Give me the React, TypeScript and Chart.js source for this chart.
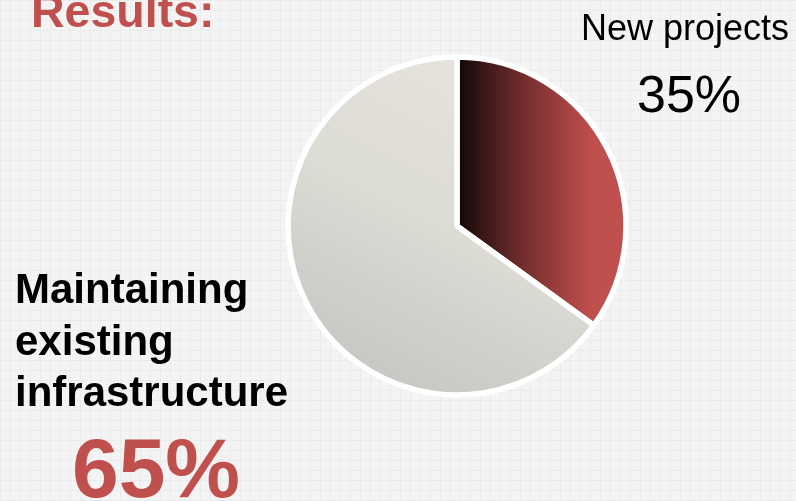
import React, { useEffect, useRef } from "react";
import { Chart, registerables } from "chart.js";

Chart.register(...registerables);

const titleText = "Results:";
const categories = ["New projects", "Maintaining existing infrastructure"];
const shares = [35, 65];
const labelLines = [["New projects"], ["Maintaining", "existing", "infrastructure"]];

const W = 796;
const H = 501;
const PIE_RADIUS = 169;
const FONT = "'Liberation Sans', Arial, Helvetica, sans-serif";
const RED = "#c0504d";

const textPlugin = {
  id: "textLabels",
  afterDraw(chart: any) {
    const ctx = chart.ctx as CanvasRenderingContext2D;
    ctx.save();
    ctx.textBaseline = "alphabetic";

    // Title
    ctx.fillStyle = RED;
    ctx.font = `bold 46.5px ${FONT}`;
    ctx.textAlign = "left";
    ctx.fillText(titleText, 31, 27);

    // New projects label
    ctx.fillStyle = "#000000";
    ctx.textAlign = "center";
    ctx.font = `36px ${FONT}`;
    labelLines[0].forEach((line, i) => ctx.fillText(line, 685, 40 + i * 40));
    ctx.font = `52px ${FONT}`;
    ctx.fillText(`${shares[0]}%`, 689, 112);

    // Maintaining label
    ctx.textAlign = "left";
    ctx.font = `bold 42px ${FONT}`;
    labelLines[1].forEach((line, i) => ctx.fillText(line, 15, 303 + i * 51.5));
    ctx.fillStyle = RED;
    ctx.font = `bold 84px ${FONT}`;
    ctx.textAlign = "center";
    ctx.fillText(`${shares[1]}%`, 156, 497);

    ctx.restore();
  },
};

function sliceColor(context: any) {
  const chart = context.chart;
  const area = chart.chartArea;
  const i = context.dataIndex;
  if (!area) return i === 0 ? RED : "#d5d5d0";
  const cx = (area.left + area.right) / 2;
  const cy = (area.top + area.bottom) / 2;
  const r = PIE_RADIUS;
  const ctx = chart.ctx as CanvasRenderingContext2D;
  if (i === 0) {
    const g = ctx.createLinearGradient(cx + 2, cy, cx + r * 0.8, cy);
    g.addColorStop(0, "#140909");
    g.addColorStop(0.45, "#6e2b2b");
    g.addColorStop(1, RED);
    return g;
  }
  const g = ctx.createLinearGradient(cx + r * 0.4, cy - r, cx - r * 0.6, cy + r);
  g.addColorStop(0, "#e7e5dd");
  g.addColorStop(0.5, "#dcdbd4");
  g.addColorStop(1, "#c4c4c2");
  return g;
}

export default function App() {
  const ref = useRef<HTMLCanvasElement | null>(null);

  useEffect(() => {
    if (!ref.current) return;
    const chart = new Chart(ref.current, {
      type: "pie",
      data: {
        labels: categories,
        datasets: [
          {
            data: shares,
            backgroundColor: sliceColor as any,
            borderColor: "#ffffff",
            borderWidth: 5.5,
          },
        ],
      },
      options: {
        responsive: false,
        animation: false,
        devicePixelRatio: 1,
        radius: PIE_RADIUS,
        layout: { padding: { left: 118, right: 0, top: 0, bottom: 49 } },
        plugins: {
          legend: { display: false },
          tooltip: { enabled: false },
          title: { display: false },
        },
      } as any,
      plugins: [textPlugin],
    });
    return () => chart.destroy();
  }, []);

  return (
    <div
      style={{
        position: "fixed",
        left: 0,
        top: 0,
        width: W,
        height: H,
        overflow: "hidden",
        backgroundColor: "#f4f4f4",
        backgroundImage:
          "linear-gradient(to right, #ebebeb 1px, transparent 1px), linear-gradient(to bottom, #ebebeb 1px, transparent 1px)",
        backgroundSize: "10px 10px",
      }}
    >
      <canvas ref={ref} width={W} height={H} style={{ display: "block", width: W, height: H }} />
    </div>
  );
}
